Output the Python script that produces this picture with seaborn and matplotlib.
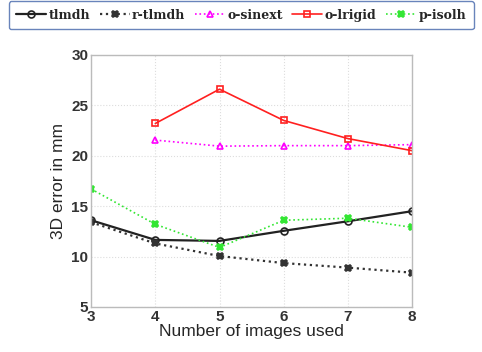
import matplotlib
matplotlib.use("Agg")
import matplotlib.pyplot as plt
import seaborn as sns
import pandas as pd
import numpy as np

x_all = [3, 4, 5, 6, 7, 8]
x_late = [4, 5, 6, 7, 8]
tlmdh = [13.6, 11.65, 11.55, 12.55, 13.5, 14.5]
r_tlmdh = [13.4, 11.3, 10.05, 9.35, 8.9, 8.4]
o_sinext = [21.55, 20.95, 21.0, 21.0, 21.1]
o_lrigid = [23.2, 26.6, 23.5, 21.7, 20.5]
p_isolh = [16.7, 13.2, 10.9, 13.6, 13.8, 12.9]
yticks = [5, 10, 15, 20, 25, 30]

sns.set_theme(style="whitegrid")
plt.rcParams['font.family'] = ['Liberation Sans', 'DejaVu Sans']

fig = plt.figure(figsize=(4.82, 3.52), dpi=100)
ax = fig.add_axes([0.189, 0.128, 0.666, 0.716])

series = [
    ("tlmdh", x_all, tlmdh, "#222222", "-", "o", 1.6, 5, True),
    ("r-tlmdh", x_all, r_tlmdh, "#333333", ":", "X", 1.6, 5, False),
    ("o-sinext", x_late, o_sinext, "#ff00ff", ":", "^", 1.2, 5, True),
    ("o-lrigid", x_late, o_lrigid, "#ff2020", "-", "s", 1.2, 4, True),
    ("p-isolh", x_all, p_isolh, "#33e633", ":", "X", 1.2, 5, False),
]
handles = []
for name, xs, ys, c, ls, mk, lw, ms, hollow in series:
    df = pd.DataFrame({"x": xs, "y": ys})
    sns.lineplot(data=df, x="x", y="y", ax=ax, color=c, linestyle=ls, linewidth=lw,
                 label=name, legend=False)
    ln = ax.lines[-1]
    ln.set_marker(mk)
    ln.set_markersize(ms)
    ln.set_markeredgecolor(c)
    ln.set_markerfacecolor("none" if hollow else c)
    ln.set_markeredgewidth(1.2)
    handles.append(ln)

ax.set_xlim(3, 8)
ax.set_ylim(5, 30)
ax.set_xticks(x_all)
ax.set_yticks(yticks)
ax.tick_params(labelsize=11, labelcolor="#333333", pad=2, length=0)
for lab in ax.get_xticklabels() + ax.get_yticklabels():
    lab.set_fontweight("bold")
ax.grid(True, color="#dddddd", linestyle=":", linewidth=0.8)
for s in ax.spines.values():
    s.set_color("#bbbbbb")
    s.set_linewidth(1.0)
ax.set_xlabel("Number of images used", fontsize=12.5, labelpad=0)
ax.set_ylabel("3D error in mm", fontsize=12.5, labelpad=4)

leg = fig.legend(handles=handles, labels=[s[0] for s in series], loc="upper center",
                 bbox_to_anchor=(0.5, 1.0), ncol=5, frameon=True, fancybox=True,
                 prop={"family": "DejaVu Serif", "size": 9, "weight": "bold"},
                 handlelength=2.4, columnspacing=0.75, handletextpad=0.2,
                 borderaxespad=0.1, borderpad=0.6)
leg.get_frame().set_edgecolor("#4466aa")
leg.get_frame().set_linewidth(1.0)

fig.savefig("out.png", dpi=100)
